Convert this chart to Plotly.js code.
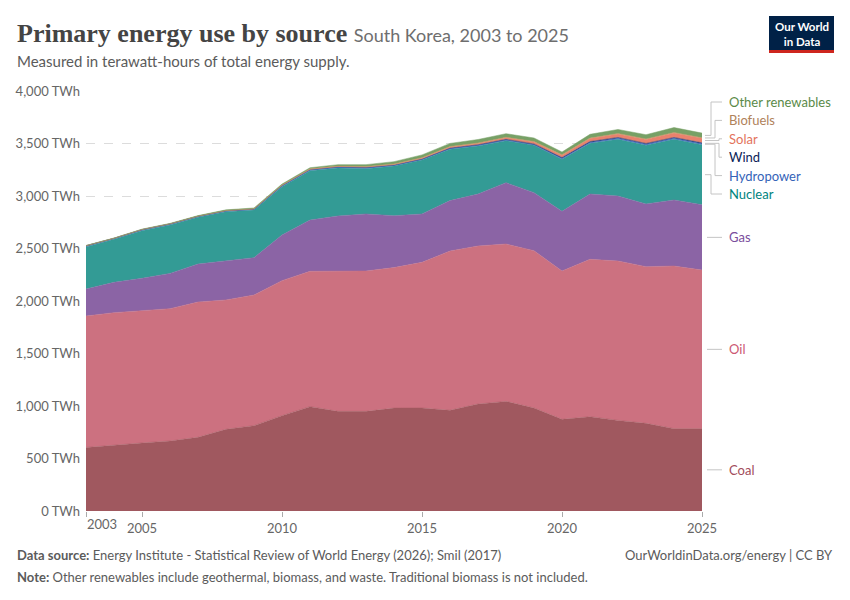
<!DOCTYPE html>
<html>
<head>
<meta charset="utf-8">
<script src="https://cdn.plot.ly/plotly-3.0.1.min.js"></script>
<style>
  body { margin: 0; background: #fff; }
  #chart { width: 850px; height: 600px; }
</style>
</head>
<body>
<div id="chart"></div>
<script>
// values, TWh
let years = [2003, 2004, 2005, 2006, 2007, 2008, 2009, 2010, 2011, 2012, 2013, 2014,
             2015, 2016, 2017, 2018, 2019, 2020, 2021, 2022, 2023, 2024, 2025];

let coal = [605, 629, 648, 667, 702, 778, 813, 908, 994, 949, 949, 980,
            981, 959, 1019, 1044, 981, 873, 898, 863, 835, 784, 784];
let oil = [1252, 1260, 1260, 1260, 1288, 1232, 1244, 1286, 1289, 1334, 1337, 1338,
           1387, 1517, 1505, 1499, 1498, 1413, 1499, 1518, 1492, 1549, 1511];
let gas = [257, 289, 308, 336, 362, 374, 356, 435, 488, 527, 543, 494,
           461, 480, 495, 584, 553, 568, 622, 619, 597, 629, 622];
let nuclear = [400, 409, 454, 461, 445, 467, 454, 460, 470, 457, 431, 473,
               514, 489, 457, 400, 451, 495, 483, 540, 559, 578, 572];
let hydropower = [12, 10, 10, 10, 9, 8, 7, 9, 10, 9, 10, 7,
                  6, 7, 7, 7, 6, 9, 8, 9, 9, 9, 8];
let wind = [0.1, 0.1, 0.3, 0.6, 1, 1.1, 1.7, 2.1, 2.1, 2.3, 2.8, 3.1,
            3.4, 4.1, 5, 5.6, 6.6, 7.8, 8.6, 8.9, 8.7, 8.9, 9.2];
let solar = [0, 0, 0.1, 0.1, 0.2, 0.7, 1.4, 1.8, 2.3, 2.8, 3.9, 5.5,
             8, 10, 12, 15, 19, 22, 28, 33, 38, 43, 44];
let biofuels = [0, 0, 0, 0.5, 1, 1.5, 2, 2.5, 3, 3.5, 4, 4.5,
                5, 5, 5, 5, 5, 5, 5, 5, 5, 5, 5];
let other_renewables = [3, 3, 4, 4, 5, 6, 7, 9, 11, 14, 18, 22,
                        26, 30, 33, 34, 33, 26, 36, 38, 40, 46, 44];

let names = ["Coal", "Oil", "Gas", "Nuclear", "Hydropower", "Wind", "Solar", "Biofuels", "Other renewables"];
let series = [coal, oil, gas, nuclear, hydropower, wind, solar, biofuels, other_renewables];
let fill_colors = ["#a0585f", "#cc7180", "#8b64a5", "#339b95", "#4a6fc4", "#1c3a78", "#e9826d", "#c0945f", "#77a066"];
let label_colors = ["#a24c5b", "#cc5872", "#7a4d9c", "#00847e", "#3563b8", "#0b2357", "#e3735b", "#b0825a", "#5a8a48"];

let tick_years = [2003, 2005, 2010, 2015, 2020, 2025];
let y_ticks = [0, 500, 1000, 1500, 2000, 2500, 3000, 3500, 4000];


// plot box in pixels, used to place the text around it
let W = 850, H = 600;
let L = 86, R = 702, T = 91, B = 511;
function px_x(px) { return (px - L) / (R - L); }
function px_y(py) { return (B - py) / (B - T); }

let font = "Lato, 'Open Sans', sans-serif";


window.onload = () =>
{
    let traces = [];
    for (let i = 0; i < series.length; ++i)
    {
        traces.push({
            x: years,
            y: series[i],
            name: names[i],
            type: "scatter",
            mode: "lines",
            stackgroup: "one",
            fillcolor: fill_colors[i],
            line: {width: 0.5, color: fill_colors[i]},
            hoverinfo: "skip"
        });
    }

    // where each band sits at the last year
    let last = years.length - 1;
    let base = 0;
    let mids = [];
    for (let i = 0; i < series.length; ++i)
    {
        mids.push(base + series[i][last] / 2);
        base += series[i][last];
    }
    let y_max = y_ticks[y_ticks.length - 1];

    // labels: bottom three at their bands, the thin top ones spread out
    let label_px = [];
    for (let i = 0; i < series.length; ++i)
    {
        if (i < 3)
            label_px.push(B - mids[i] / y_max * (B - T));
        else
            label_px.push(194 - (i - 3) * 18.4);
    }
    let elbow_px = [0, 0, 0, 711, 715, 719, 719, 715, 711];

    let annotations = [];
    let shapes = [];
    for (let i = 0; i < series.length; ++i)
    {
        let ly = px_y(label_px[i]);
        annotations.push({
            xref: "paper", yref: "paper", x: px_x(727), y: ly,
            xanchor: "left", yanchor: "middle", showarrow: false,
            text: names[i], font: {family: font, size: 13, color: label_colors[i]}
        });
        if (i < 3)
        {
            shapes.push({type: "line", xref: "paper", yref: "paper",
                x0: px_x(707), x1: px_x(722), y0: ly, y1: ly,
                line: {color: "#c4c4c4", width: 1}});
        }
        else
        {
            let sy = mids[i] / y_max;
            let ex = px_x(elbow_px[i]);
            shapes.push({type: "path", xref: "paper", yref: "paper",
                path: "M" + px_x(705) + "," + sy + " L" + ex + "," + sy +
                      " L" + ex + "," + ly + " L" + px_x(722) + "," + ly,
                line: {color: "#c4c4c4", width: 1}});
        }
    }

    // first year label sits left-aligned on its tick
    annotations.push({
        xref: "x", yref: "paper", x: years[0], y: px_y(524),
        xanchor: "left", yanchor: "middle", showarrow: false, xshift: -1,
        text: String(years[0]), font: {family: font, size: 13, color: "#666"}
    });

    // header
    annotations.push({
        xref: "paper", yref: "paper", x: px_x(15), y: px_y(33),
        xanchor: "left", yanchor: "middle", showarrow: false,
        text: "Primary energy use by source <span style=\"font-family:Lato;font-weight:400;font-size:18px;fill:#6e6e6e\">South Korea, 2003 to 2025</span>",
        font: {family: "'Liberation Serif', serif", size: 26, color: "#444", weight: 700}
    });
    annotations.push({
        xref: "paper", yref: "paper", x: px_x(15), y: px_y(61),
        xanchor: "left", yanchor: "middle", showarrow: false,
        text: "Measured in terawatt-hours of total energy supply.",
        font: {family: font, size: 15, color: "#5b5b5b"}
    });

    // logo
    shapes.push({type: "rect", xref: "paper", yref: "paper",
        x0: px_x(769), x1: px_x(834), y0: px_y(50), y1: px_y(16),
        fillcolor: "#002147", line: {width: 0}});
    shapes.push({type: "rect", xref: "paper", yref: "paper",
        x0: px_x(769), x1: px_x(834), y0: px_y(53), y1: px_y(50),
        fillcolor: "#ce261e", line: {width: 0}});
    annotations.push({
        xref: "paper", yref: "paper", x: px_x(801.5), y: px_y(34),
        xanchor: "center", yanchor: "middle", showarrow: false, align: "center",
        text: "Our World<br>in Data",
        font: {family: font, size: 11.5, color: "#fff", weight: 700}
    });

    // footer
    annotations.push({
        xref: "paper", yref: "paper", x: px_x(15), y: px_y(555),
        xanchor: "left", yanchor: "middle", showarrow: false,
        text: "<b>Data source:</b> Energy Institute - Statistical Review of World Energy (2026); Smil (2017)",
        font: {family: font, size: 13, color: "#5b5b5b"}
    });
    annotations.push({
        xref: "paper", yref: "paper", x: px_x(835), y: px_y(555),
        xanchor: "right", yanchor: "middle", showarrow: false,
        text: "OurWorldinData.org/energy | CC BY",
        font: {family: font, size: 13, color: "#5b5b5b"}
    });
    annotations.push({
        xref: "paper", yref: "paper", x: px_x(15), y: px_y(577),
        xanchor: "left", yanchor: "middle", showarrow: false,
        text: "<b>Note:</b> Other renewables include geothermal, biomass, and waste. Traditional biomass is not included.",
        font: {family: font, size: 13, color: "#5b5b5b"}
    });

    let layout = {
        width: W, height: H,
        margin: {l: L, r: W - R, t: T, b: H - B, pad: 0},
        paper_bgcolor: "#fff",
        plot_bgcolor: "#fff",
        showlegend: false,
        font: {family: font, color: "#666"},
        xaxis: {
            range: [years[0], years[last]],
            tickvals: tick_years,
            ticktext: tick_years.map((y, k) => k == 0 ? "" : String(y)),
            ticks: "outside", ticklen: 5, tickcolor: "#aaa",
            showgrid: false, zeroline: false, showline: false,
            tickfont: {family: font, size: 13, color: "#666"}
        },
        yaxis: {
            range: [0, y_max],
            tickvals: y_ticks,
            ticktext: y_ticks.map(v => v.toLocaleString("en-US") + " TWh"),
            ticklabelstandoff: 5,
            showgrid: true, gridcolor: "#dcdcdc", griddash: "dash", gridwidth: 1,
            zeroline: false, showline: false,
            tickfont: {family: font, size: 13, color: "#666"}
        },
        annotations: annotations,
        shapes: shapes
    };

    Plotly.newPlot("chart", traces, layout, {displayModeBar: false, staticPlot: true});
};
</script>
</body>
</html>
